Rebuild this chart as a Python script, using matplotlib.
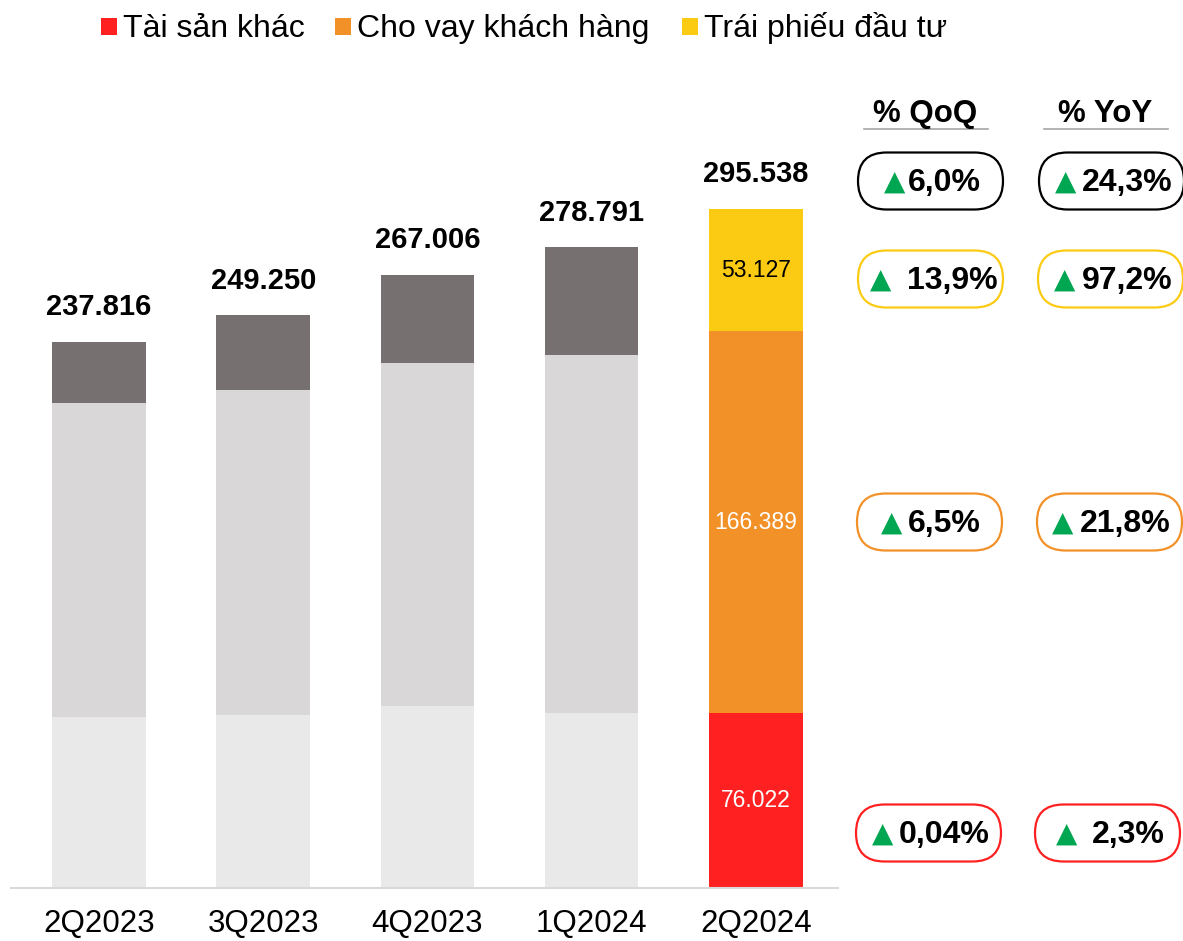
import matplotlib
matplotlib.use("Agg")
import matplotlib.pyplot as plt
from matplotlib.patches import FancyBboxPatch, Rectangle

plt.rcParams['font.family'] = ['Liberation Sans', 'DejaVu Sans']

# dữ liệu
quarters = ['2Q2023', '3Q2023', '4Q2023', '1Q2024', '2Q2024']
tai_san_khac = [74.3, 75.3, 79.2, 76.0, 76.022]
cho_vay = [136.6, 141.5, 149.3, 156.2, 166.389]
trai_phieu = [26.9, 32.45, 38.5, 46.6, 53.127]
totals = ['237.816', '249.250', '267.006', '278.791', '295.538']
total_vals = [237.816, 249.250, 267.006, 278.791, 295.538]

qoq = ['6,0%', '13,9%', '6,5%', '0,04%']
yoy = ['24,3%', '97,2%', '21,8%', '2,3%']

legend_labels = ['Tài sản khác', 'Cho vay khách hàng', 'Trái phiếu đầu tư']

RED = '#FF2121'
ORANGE = '#F39129'
YELLOW = '#FBCB14'
GREEN = '#00A651'
grey1, grey2, grey3 = '#E9E9E9', '#D9D7D8', '#767170'

fig = plt.figure(figsize=(11.83, 9.41), dpi=100)
ax = fig.add_axes([11 / 1183, 1 - 888 / 941, 827 / 1183, 340 * 2.2975 / 941])

x = range(len(quarters))
c1 = [grey1] * 4 + [RED]
c2 = [grey2] * 4 + [ORANGE]
c3 = [grey3] * 4 + [YELLOW]
bottom2 = [a for a in tai_san_khac]
bottom3 = [a + b for a, b in zip(tai_san_khac, cho_vay)]
w = 0.57
ax.bar(x, tai_san_khac, width=w, color=c1)
ax.bar(x, cho_vay, width=w, bottom=bottom2, color=c2)
ax.bar(x, trai_phieu, width=w, bottom=bottom3, color=c3)

# nhãn tổng
for i, (t, v) in enumerate(zip(totals, total_vals)):
    ax.annotate(t, (i, v), xytext=(0, 25), textcoords='offset points',
                ha='center', va='center', fontsize=21, fontweight='bold')

# nhãn bên trong cột cuối
i = 4
ax.text(i, tai_san_khac[i] / 2, '76.022', ha='center', va='center', fontsize=16.5, color='white')
ax.text(i, bottom2[i] + cho_vay[i] / 2, '166.389', ha='center', va='center', fontsize=16.5, color='white')
ax.text(i, bottom3[i] + trai_phieu[i] / 2, '53.127', ha='center', va='center', fontsize=16.5, color='black')

ax.set_xlim(-0.536, 4.5)
ax.set_ylim(0, 340)
ax.set_xticks(list(x))
ax.set_xticklabels(quarters, fontsize=22.5)
ax.tick_params(axis='x', length=0, pad=15)
ax.set_yticks([])
for s in ['top', 'right', 'left']:
    ax.spines[s].set_visible(False)
ax.spines['bottom'].set_color('#D9D9D9')
ax.spines['bottom'].set_linewidth(1.5)

# lớp phủ theo pixel
ov = fig.add_axes([0, 0, 1, 1])
ov.set_xlim(0, 1183)
ov.set_ylim(941, 0)
ov.axis('off')

# chú thích
leg = [(101, RED, 123), (335, ORANGE, 357), (682, YELLOW, 704)]
for (sx, col, tx), lab in zip(leg, legend_labels):
    ov.add_patch(Rectangle((sx, 18), 16, 17, color=col, lw=0))
    ov.text(tx, 37, lab, fontsize=23, va='baseline', ha='left')

# tiêu đề cột %
for cx, lab, x0, x1 in [(925, '% QoQ', 864, 988), (1105, '% YoY', 1044, 1168)]:
    ov.text(cx, 114, lab, fontsize=22.5, fontweight='bold', ha='center', va='center')
    ov.plot([x0, x1], [129, 129], color='#A6A6A6', lw=1.2)

row_y = [181, 279, 522, 833]
row_col = ['black', YELLOW, ORANGE, RED]
qoq_pos = [(858, 895, 908), (858, 881, 907), (857, 892, 908), (856, 883, 899)]
yoy_pos = [(1039, 1066, 1082), (1038, 1065, 1082), (1037, 1063, 1080), (1035, 1067, 1092)]
for r, (yc, ec) in enumerate(zip(row_y, row_col)):
    for (bx, tx, nx), lab in [(qoq_pos[r], qoq[r]), (yoy_pos[r], yoy[r])]:
        ov.add_patch(FancyBboxPatch((bx, yc - 28.5), 145, 57,
                                    boxstyle='round,pad=0,rounding_size=28.5',
                                    fc='none', ec=ec, lw=1.6))
        ov.text(tx, yc + 1, '▲', color=GREEN, fontsize=20, family='DejaVu Sans',
                ha='center', va='center')
        ov.text(nx, yc + 2, lab, fontsize=23, fontweight='bold', ha='left', va='center')

fig.savefig('out.png', dpi=100)
